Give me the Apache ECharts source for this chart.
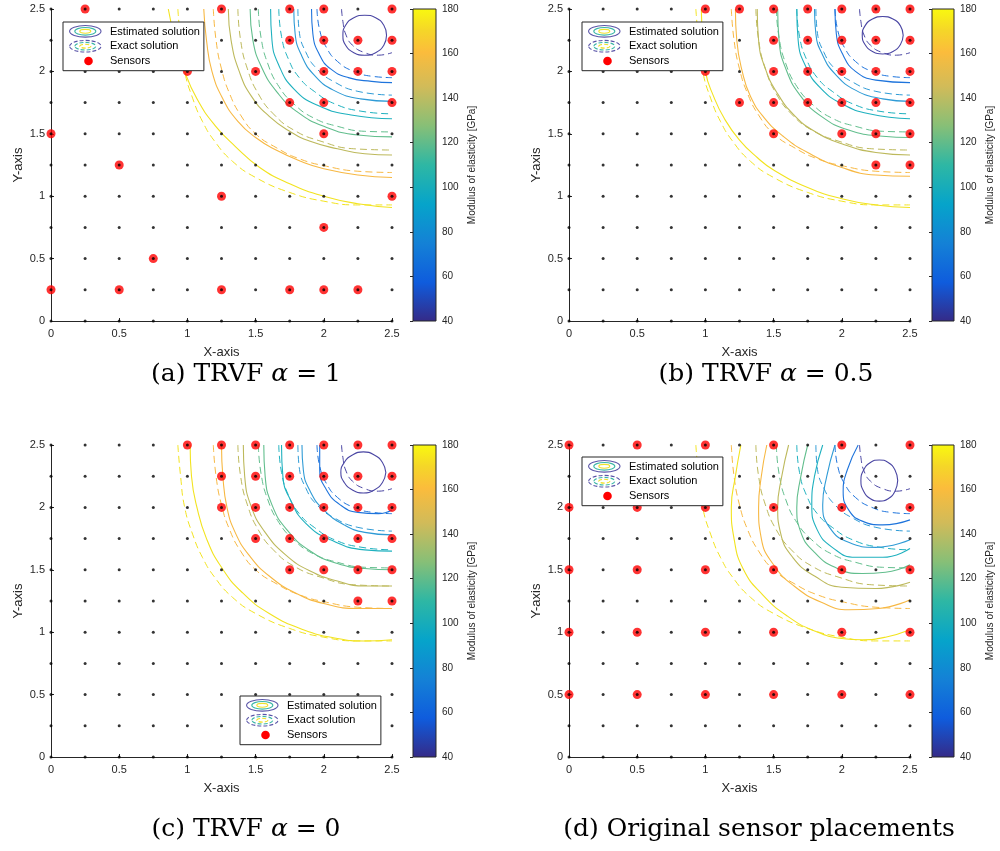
<!DOCTYPE html>
<html><head><meta charset="utf-8">
<script src="https://cdn.jsdelivr.net/npm/echarts@6/dist/echarts.min.js"></script>
<style>html,body{margin:0;padding:0;background:#fff}#chart{width:1000px;height:851px}</style>
</head><body><div id="chart"></div>
<script>
// ---------------- data ----------------
const gridNodes = [0, 0.25, 0.5, 0.75, 1, 1.25, 1.5, 1.75, 2, 2.25, 2.5];
const colorbarRange = [40, 180];

// exact solution contours (dashed), same in every panel; order: yellow -> purple
const exactCurves = [
  [[0.93,2.5],[0.95,2.25],[0.98,2.0],[1.04,1.78],[1.11,1.6],[1.2,1.44],[1.33,1.28],[1.5,1.15],[1.75,1.03],[2.0,0.96],[2.25,0.93],[2.5,0.93]],
  [[1.19,2.5],[1.21,2.25],[1.25,2.02],[1.31,1.82],[1.39,1.65],[1.5,1.5],[1.65,1.39],[1.82,1.3],[2.02,1.24],[2.25,1.2],[2.5,1.19]],
  [[1.37,2.5],[1.39,2.25],[1.44,2.02],[1.52,1.82],[1.63,1.66],[1.78,1.53],[1.98,1.44],[2.22,1.38],[2.5,1.37]],
  [[1.52,2.5],[1.54,2.27],[1.59,2.06],[1.67,1.88],[1.78,1.74],[1.92,1.63],[2.1,1.56],[2.3,1.52],[2.5,1.515]],
  [[1.67,2.5],[1.69,2.28],[1.74,2.1],[1.82,1.95],[1.93,1.84],[2.08,1.74],[2.28,1.68],[2.5,1.66]],
  [[1.81,2.5],[1.82,2.32],[1.87,2.15],[1.95,2.02],[2.07,1.92],[2.25,1.84],[2.5,1.81]],
  [[1.95,2.5],[1.97,2.33],[2.02,2.19],[2.1,2.08],[2.22,2.0],[2.36,1.96],[2.5,1.95]],
  [[2.13,2.5],[2.14,2.4],[2.16,2.3],[2.21,2.21],[2.3,2.15],[2.4,2.13],[2.5,2.15]]
];

// estimated solution contours (solid)
const estCurvesA = [
  [[0.86,2.5],[0.91,2.25],[0.98,2.0],[1.07,1.78],[1.2,1.57],[1.35,1.4],[1.53,1.23],[1.75,1.1],[2.0,1.0],[2.25,0.94],[2.5,0.91]],
  [[1.12,2.5],[1.14,2.25],[1.18,2.0],[1.26,1.78],[1.37,1.6],[1.5,1.47],[1.65,1.37],[1.83,1.28],[2.0,1.22],[2.25,1.17],[2.5,1.15]],
  [[1.3,2.5],[1.32,2.25],[1.38,2.0],[1.47,1.8],[1.6,1.64],[1.75,1.52],[1.9,1.44],[2.1,1.38],[2.3,1.34],[2.5,1.33]],
  [[1.46,2.5],[1.48,2.25],[1.55,2.02],[1.66,1.83],[1.8,1.68],[2.0,1.56],[2.25,1.49],[2.5,1.475]],
  [[1.61,2.5],[1.62,2.25],[1.67,2.05],[1.78,1.86],[1.95,1.73],[2.2,1.65],[2.5,1.62]],
  [[1.78,2.5],[1.79,2.3],[1.84,2.12],[1.93,1.97],[2.07,1.85],[2.27,1.78],[2.5,1.76]],
  [[1.91,2.5],[1.92,2.3],[1.97,2.13],[2.05,2.02],[2.18,1.95],[2.35,1.92],[2.5,1.91]],
  [[2.46,2.29],[2.44,2.37],[2.38,2.43],[2.30,2.45],[2.22,2.43],[2.16,2.37],[2.14,2.29],[2.16,2.21],[2.22,2.15],[2.30,2.13],[2.38,2.15],[2.44,2.21],[2.46,2.29]]
];
const estCurvesB = [
  [[0.97,2.5],[0.98,2.25],[1.0,2.0],[1.06,1.8],[1.14,1.62],[1.25,1.45],[1.38,1.31],[1.5,1.21],[1.75,1.07],[2.0,0.98],[2.25,0.93],[2.5,0.91]],
  [[1.22,2.5],[1.23,2.25],[1.27,2.0],[1.33,1.8],[1.43,1.63],[1.57,1.48],[1.75,1.35],[2.0,1.23],[2.25,1.17],[2.5,1.16]],
  [[1.38,2.5],[1.39,2.25],[1.44,2.02],[1.53,1.82],[1.65,1.65],[1.8,1.52],[2.0,1.42],[2.25,1.35],[2.5,1.33]],
  [[1.53,2.5],[1.54,2.25],[1.59,2.02],[1.7,1.8],[1.85,1.64],[2.05,1.53],[2.3,1.48],[2.5,1.47]],
  [[1.67,2.5],[1.68,2.25],[1.74,2.03],[1.85,1.86],[2.0,1.74],[2.2,1.66],[2.5,1.62]],
  [[1.8,2.5],[1.81,2.3],[1.86,2.13],[1.95,1.98],[2.1,1.85],[2.3,1.78],[2.5,1.76]],
  [[1.95,2.5],[1.96,2.3],[2.01,2.13],[2.1,2.0],[2.25,1.93],[2.5,1.91]],
  [[2.45,2.29],[2.43,2.365],[2.375,2.42],[2.30,2.44],[2.225,2.42],[2.17,2.365],[2.15,2.29],[2.17,2.215],[2.225,2.16],[2.30,2.14],[2.375,2.16],[2.43,2.215],[2.45,2.29]]
];
const estCurvesC = [
  [[1.02,2.5],[1.03,2.25],[1.07,2.0],[1.14,1.75],[1.25,1.52],[1.4,1.32],[1.6,1.15],[1.85,1.02],[2.1,0.95],[2.3,0.93],[2.5,0.94]],
  [[1.25,2.5],[1.26,2.25],[1.29,2.0],[1.35,1.8],[1.45,1.62],[1.6,1.45],[1.8,1.31],[2.0,1.23],[2.25,1.19],[2.5,1.19]],
  [[1.41,2.5],[1.42,2.25],[1.47,2.0],[1.57,1.8],[1.72,1.62],[1.9,1.49],[2.1,1.41],[2.3,1.37],[2.5,1.37]],
  [[1.56,2.5],[1.57,2.25],[1.62,2.02],[1.73,1.82],[1.9,1.65],[2.1,1.55],[2.3,1.51],[2.5,1.5]],
  [[1.69,2.5],[1.7,2.25],[1.76,2.05],[1.87,1.87],[2.05,1.74],[2.3,1.66],[2.5,1.65]],
  [[1.84,2.5],[1.85,2.3],[1.9,2.13],[2.0,1.98],[2.15,1.86],[2.3,1.8],[2.5,1.78]],
  [[1.97,2.5],[1.97,2.3],[2.02,2.14],[2.12,2.02],[2.25,1.96],[2.4,1.95],[2.5,1.98]],
  [[2.455,2.28],[2.43,2.36],[2.37,2.42],[2.29,2.445],[2.21,2.42],[2.15,2.36],[2.125,2.28],[2.15,2.2],[2.21,2.14],[2.29,2.115],[2.37,2.14],[2.43,2.2],[2.455,2.28]]
];
const estCurvesD = [
  [[1.26,2.5],[1.22,2.25],[1.19,2.0],[1.21,1.75],[1.28,1.5],[1.42,1.3],[1.6,1.13],[1.8,1.01],[2.0,0.95],[2.15,0.94],[2.32,0.96],[2.5,1.02]],
  [[1.45,2.5],[1.41,2.25],[1.39,2.0],[1.41,1.75],[1.5,1.54],[1.65,1.37],[1.85,1.24],[2.05,1.18],[2.27,1.19],[2.5,1.26]],
  [[1.61,2.5],[1.56,2.25],[1.53,2.0],[1.55,1.8],[1.64,1.6],[1.8,1.45],[2.0,1.36],[2.25,1.35],[2.5,1.4]],
  [[1.75,2.5],[1.7,2.25],[1.67,2.0],[1.7,1.8],[1.8,1.64],[1.95,1.52],[2.15,1.47],[2.32,1.48],[2.5,1.54]],
  [[1.86,2.5],[1.8,2.25],[1.78,2.02],[1.82,1.82],[1.93,1.68],[2.1,1.6],[2.3,1.6],[2.5,1.67]],
  [[1.95,2.5],[1.89,2.25],[1.86,2.02],[1.91,1.84],[2.05,1.72],[2.25,1.68],[2.5,1.74]],
  [[2.12,2.5],[2.04,2.3],[2.01,2.13],[2.05,1.98],[2.15,1.89],[2.3,1.86],[2.5,1.9]],
  [[2.41,2.215],[2.39,2.30],[2.34,2.36],[2.275,2.38],[2.21,2.36],[2.16,2.30],[2.14,2.215],[2.16,2.13],[2.21,2.07],[2.275,2.05],[2.34,2.07],[2.39,2.13],[2.41,2.215]]
];

// sensor locations
const sensorsA = [
  [0.25,2.5],[1.25,2.5],[1.75,2.5],[2,2.5],[2.5,2.5],
  [1.75,2.25],[2,2.25],[2.25,2.25],[2.5,2.25],
  [1,2],[1.5,2],[2,2],[2.25,2],[2.5,2],
  [1.75,1.75],[2,1.75],[2.5,1.75],
  [0,1.5],[2,1.5],[0.5,1.25],[1.25,1],[2.5,1],[2,0.75],[0.75,0.5],
  [0,0.25],[0.5,0.25],[1.25,0.25],[1.75,0.25],[2,0.25],[2.25,0.25]
];
const sensorsB = [
  [1,2.5],[1.25,2.5],[1.5,2.5],[1.75,2.5],[2,2.5],[2.25,2.5],[2.5,2.5],
  [1.5,2.25],[1.75,2.25],[2,2.25],[2.25,2.25],[2.5,2.25],
  [1,2],[1.5,2],[1.75,2],[2,2],[2.25,2],[2.5,2],
  [1.25,1.75],[1.5,1.75],[1.75,1.75],[2,1.75],[2.25,1.75],[2.5,1.75],
  [1.5,1.5],[2,1.5],[2.25,1.5],[2.5,1.5],
  [2.25,1.25],[2.5,1.25]
];
const sensorsC = [
  [1,2.5],[1.25,2.5],[1.5,2.5],[1.75,2.5],[2,2.5],[2.25,2.5],[2.5,2.5],
  [1.25,2.25],[1.5,2.25],[1.75,2.25],[2,2.25],[2.25,2.25],[2.5,2.25],
  [1.25,2],[1.5,2],[1.75,2],[2,2],[2.25,2],[2.5,2],
  [1.5,1.75],[1.75,1.75],[2,1.75],[2.25,1.75],[2.5,1.75],
  [1.75,1.5],[2,1.5],[2.25,1.5],[2.5,1.5],
  [2.25,1.25],[2.5,1.25]
];
const sensorsD = [
  [0,2.5],[0.5,2.5],[1,2.5],[1.5,2.5],[2,2.5],[2.5,2.5],
  [0,2],[0.5,2],[1,2],[1.5,2],[2,2],[2.5,2],
  [0,1.5],[0.5,1.5],[1,1.5],[1.5,1.5],[2,1.5],[2.5,1.5],
  [0,1],[0.5,1],[1,1],[1.5,1],[2,1],[2.5,1],
  [0,0.5],[0.5,0.5],[1,0.5],[1.5,0.5],[2,0.5],[2.5,0.5]
];

const captionLead = ['(a) TRVF ', '(b) TRVF ', '(c) TRVF ', '(d) Original sensor placements'];
const captionAlpha = ['1', '0.5', '0', null];
const legendNames = ['Estimated solution', 'Exact solution', 'Sensors'];

// ---------------- styles / layout ----------------
const FONT = '"Liberation Sans", Arial, sans-serif';
const SERIF = '"DejaVu Serif", serif';
const AX = '#262626';
const contourColors = ['#f2e31f', '#f7b843', '#bdb95c', '#62be8d', '#1fb1bf', '#2f9bd6', '#1e74dc', '#4a46a3'];
const parulaStops = [
  [0, '#352a87'], [0.125, '#0f5cdd'], [0.25, '#1481d6'], [0.375, '#06a4ca'], [0.5, '#2eb7a4'],
  [0.625, '#87bf77'], [0.75, '#d1bb59'], [0.86, '#fbbc3c'], [0.93, '#f5d628'], [1, '#f9f90f']
].map(s => ({offset: s[0], color: s[1]}));

const W = 341, H = 312;
const layouts = [
  {gx: 51,  gy: 9,   cbx: 413, cbw: 23, lx: 63,  ly: 22,  capx: 246, capy: 374},
  {gx: 569, gy: 9,   cbx: 932, cbw: 22, lx: 582, ly: 22,  capx: 766, capy: 374},
  {gx: 51,  gy: 445, cbx: 413, cbw: 23, lx: 240, ly: 696, capx: 246, capy: 829},
  {gx: 569, gy: 445, cbx: 932, cbw: 22, lx: 582, ly: 457, capx: 759, capy: 829}
];
const estSets = [estCurvesA, estCurvesB, estCurvesC, estCurvesD];
const sensorSets = [sensorsA, sensorsB, sensorsC, sensorsD];

const nodePoints = [];
gridNodes.forEach(x => gridNodes.forEach(y => nodePoints.push([x, y])));

const grids = [], xAxes = [], yAxes = [], series = [], legends = [], titles = [], graphics = [];

layouts.forEach((L, p) => {
  grids.push({left: L.gx, top: L.gy, width: W, height: H});
  xAxes.push({
    gridIndex: p, type: 'value', min: 0, max: 2.5, interval: 0.5,
    splitLine: {show: false},
    axisLine: {show: true, lineStyle: {color: AX, width: 1}},
    axisTick: {show: true, inside: true, length: 3, lineStyle: {color: AX}},
    axisLabel: {fontSize: 11, color: AX, margin: 7, fontFamily: FONT},
    name: 'X-axis', nameLocation: 'middle', nameGap: 25,
    nameTextStyle: {fontSize: 13, color: AX, fontFamily: FONT}
  });
  yAxes.push({
    gridIndex: p, type: 'value', min: 0, max: 2.5, interval: 0.5,
    splitLine: {show: false},
    axisLine: {show: true, lineStyle: {color: AX, width: 1}},
    axisTick: {show: true, inside: true, length: 3, lineStyle: {color: AX}},
    axisLabel: {fontSize: 11, color: AX, margin: 6, fontFamily: FONT},
    name: 'Y-axis', nameLocation: 'middle', nameGap: 26,
    nameTextStyle: {fontSize: 13, color: AX, fontFamily: FONT}
  });
});
layouts.forEach((L, p) => {
  const gi = 4 + p;
  grids.push({left: L.cbx, top: L.gy, width: L.cbw, height: H});
  xAxes.push({gridIndex: gi, type: 'value', min: 0, max: 1, show: false});
  yAxes.push({
    gridIndex: gi, type: 'value', min: colorbarRange[0], max: colorbarRange[1], interval: 20,
    position: 'right', z: 10,
    splitLine: {show: false}, axisLine: {show: false},
    axisTick: {show: true, inside: true, length: 3, lineStyle: {color: AX}},
    axisLabel: {fontSize: 10, color: AX, margin: 6, fontFamily: FONT},
    name: 'Modulus of elasticity [GPa]', nameLocation: 'middle', nameGap: 31,
    nameTextStyle: {fontSize: 10, color: AX, fontFamily: FONT}
  });
});

layouts.forEach((L, p) => {
  exactCurves.forEach((c, k) => series.push({
    type: 'line', name: 'Exact solution', xAxisIndex: p, yAxisIndex: p, data: c,
    smooth: 0.5, symbol: 'none', silent: true, z: 2,
    itemStyle: {color: contourColors[k]},
    lineStyle: {color: contourColors[k], width: 1, type: [7, 4]}
  }));
  estSets[p].forEach((c, k) => series.push({
    type: 'line', name: 'Estimated solution', xAxisIndex: p, yAxisIndex: p, data: c,
    smooth: 0.5, symbol: 'none', silent: true, z: 2,
    itemStyle: {color: contourColors[k]},
    lineStyle: {color: contourColors[k], width: 1.1}
  }));
  series.push({
    type: 'scatter', name: 'Sensors', xAxisIndex: p, yAxisIndex: p, data: sensorSets[p],
    symbol: 'circle', symbolSize: 9, itemStyle: {color: '#ff0000'}, silent: true, z: 3
  });
  series.push({
    type: 'scatter', name: 'Nodes', xAxisIndex: p, yAxisIndex: p, data: nodePoints,
    symbol: 'circle', symbolSize: 3, itemStyle: {color: '#000'}, silent: true, z: 4
  });
  series.push({
    type: 'custom', name: 'colorbar' + p, xAxisIndex: 4 + p, yAxisIndex: 4 + p,
    data: [[0, colorbarRange[0], 1, colorbarRange[1]]], silent: true, clip: false,
    renderItem: (params, api) => {
      const a = api.coord([api.value(0), api.value(1)]);
      const b = api.coord([api.value(2), api.value(3)]);
      return {
        type: 'rect',
        shape: {x: a[0], y: b[1], width: b[0] - a[0], height: a[1] - b[1]},
        style: {fill: new echarts.graphic.LinearGradient(0, 1, 0, 0, parulaStops), stroke: AX, lineWidth: 1}
      };
    }
  });

  legends.push({
    left: L.lx, top: L.ly, orient: 'vertical', padding: [3.5, 4, 4, 6], itemGap: 2.6,
    itemWidth: 36, itemHeight: 12, selectedMode: false, z: 20,
    backgroundColor: '#fff', borderColor: AX, borderWidth: 1, borderRadius: 0,
    textStyle: {fontSize: 11, color: '#000', fontFamily: FONT},
    data: legendNames.map(n => ({name: n, icon: 'rect', itemStyle: {opacity: 0}, lineStyle: {opacity: 0, width: 0}}))
  });

  const cx = L.lx + 22.3, r1 = L.ly + 9.3, r2 = L.ly + 24.2, r3 = L.ly + 39;
  [[r1, null], [r2, [4, 2]]].forEach(([cy, dash]) => {
    [[15.7, 5.8, '#5a55a8'], [10.5, 3.8, '#3cb7a6'], [5.5, 1.9, '#efe12a']].forEach(([rx, ry, col]) => {
      graphics.push({type: 'ellipse', z: 100, silent: true, shape: {cx: cx, cy: cy, rx: rx, ry: ry},
        style: {fill: null, stroke: col, lineWidth: 1.1, lineDash: dash}});
    });
  });
  graphics.push({type: 'circle', z: 100, silent: true, shape: {cx: L.lx + 25.5, cy: r3, r: 4.3}, style: {fill: '#ff0000'}});

  const txt = captionAlpha[p] === null
    ? '{t|' + captionLead[p] + '}'
    : '{t|' + captionLead[p] + '}{m|α}{t| = ' + captionAlpha[p] + '}';
  titles.push({
    text: txt, left: L.capx, top: L.capy, textAlign: 'center', textVerticalAlign: 'middle', padding: 0,
    textStyle: {
      fontFamily: SERIF, fontSize: 25, fontWeight: 'normal', color: '#000',
      rich: {
        t: {fontFamily: SERIF, fontSize: 25, fontWeight: 'normal', color: '#000'},
        m: {fontFamily: SERIF, fontSize: 25, fontWeight: 'normal', fontStyle: 'italic', color: '#000'}
      }
    }
  });
});

const chart = echarts.init(document.getElementById('chart'));
chart.setOption({
  animation: false,
  backgroundColor: '#fff',
  title: titles,
  grid: grids,
  xAxis: xAxes,
  yAxis: yAxes,
  legend: legends,
  graphic: {elements: graphics},
  series: series
});
</script></body></html>
